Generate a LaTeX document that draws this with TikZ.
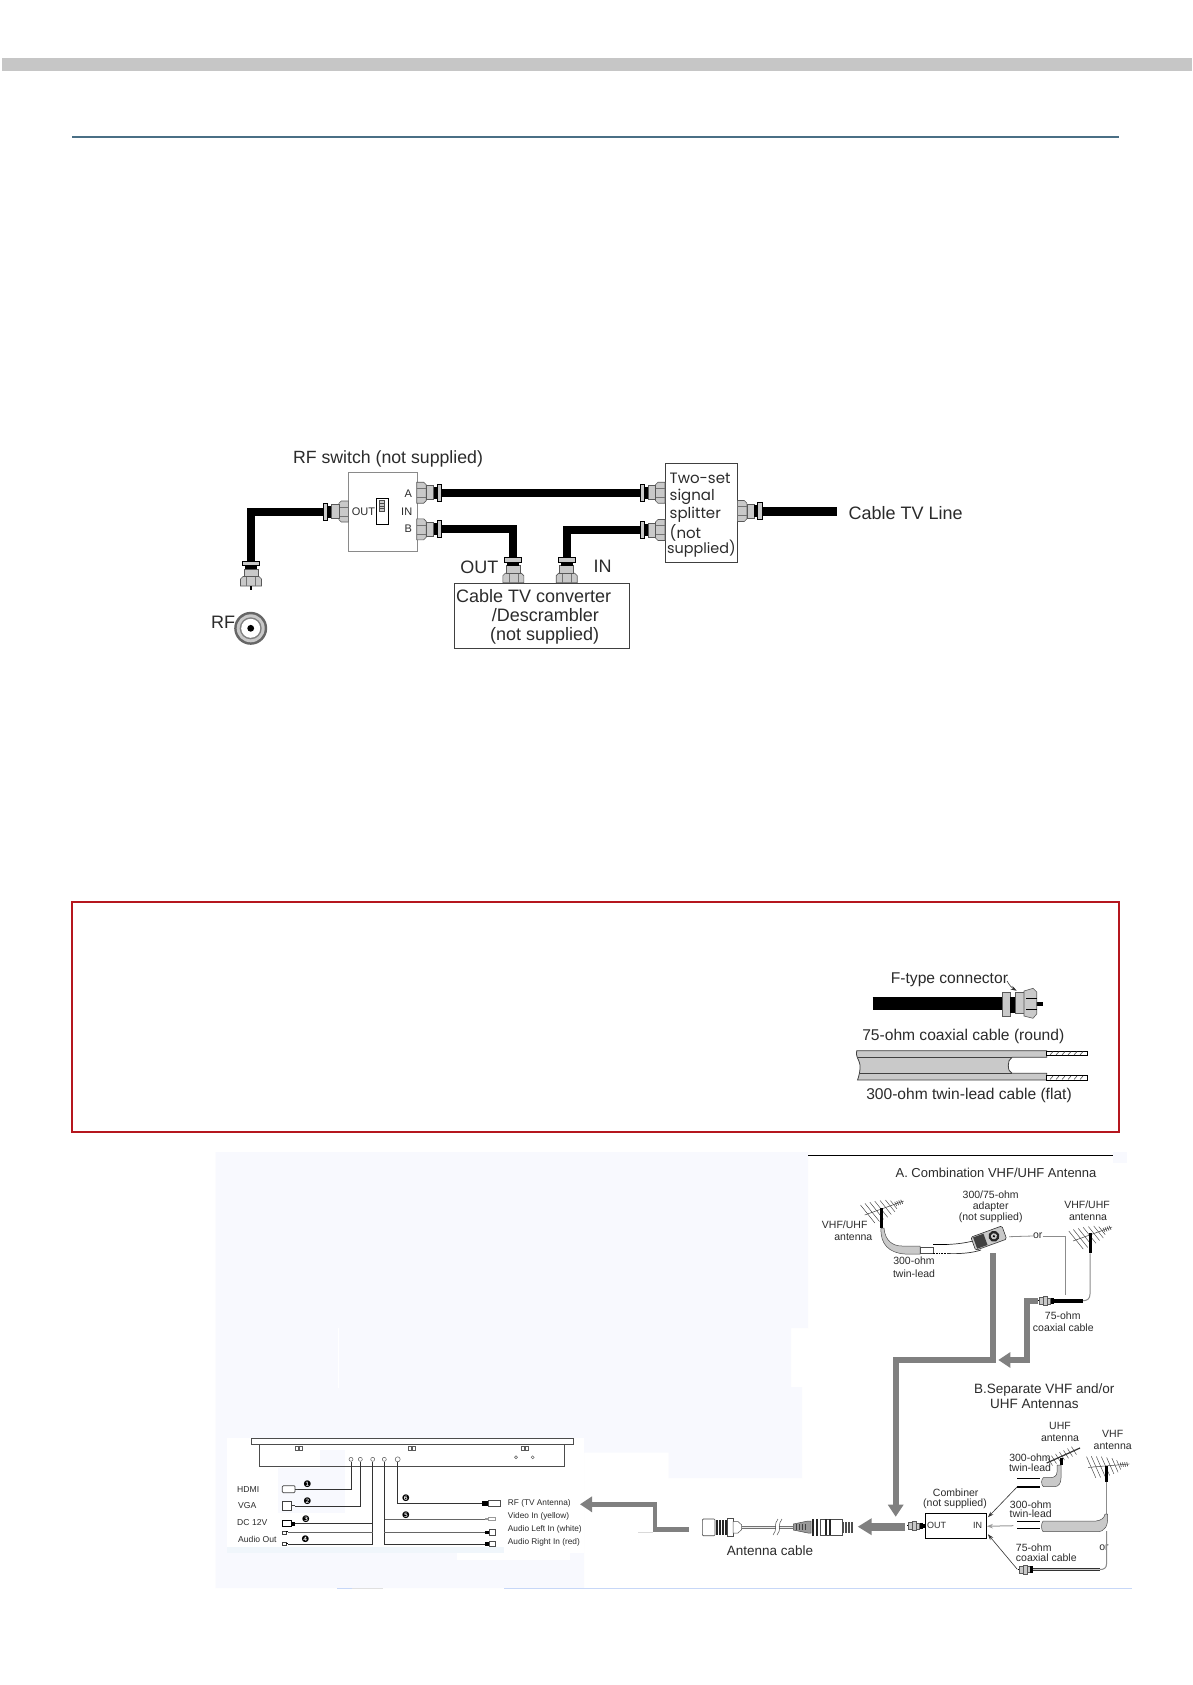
\documentclass[tikz,border=0pt]{standalone}
\usepackage{fontspec}
\setmainfont{Liberation Sans}
\newfontfamily\geo{Poppins}
\newfontfamily\dejavu{DejaVu Sans}
\usetikzlibrary{arrows.meta,calc}
\definecolor{hdr}{HTML}{C6C6C6}
\definecolor{rulecol}{HTML}{4A6F85}
\definecolor{redbox}{HTML}{B5161E}
\definecolor{pale}{HTML}{F8F9FE}
\definecolor{strip}{HTML}{F0F6FB}
\definecolor{arrowgray}{HTML}{808080}
\definecolor{partgray}{HTML}{C9C9C9}
\definecolor{boxgray}{HTML}{8A8A8A}
\definecolor{txt}{HTML}{2B2B2B}
\definecolor{blueline}{HTML}{C7D7F7}
\newcommand{\fs}[1]{\fontsize{#1}{#1}\selectfont}
\tikzset{
  x=1pt,y=-1pt,
  lab/.style={inner sep=0,text=txt,font=\fs{18}},
  swlab/.style={inner sep=0,text=txt,font=\fs{11}},
  splab/.style={inner sep=0,text=txt,font=\geo\fs{15},anchor=west},
  rlab/.style={inner sep=0,text=txt,font=\fs{15.6}},
  smalllab/.style={inner sep=0,text=txt,font=\fs{10.5}},
  midlab/.style={inner sep=0,text=txt,font=\fs{13}},
  tinylab/.style={inner sep=0,text=txt,font=\fs{8.3},anchor=west},
  numlab/.style={inner sep=0,text=black,font=\dejavu\fs{9}},
  cablebk/.style={line width=8pt,black,line join=miter},
  part/.style={fill=partgray,draw=black!65,line width=.6pt},
  bigarrow/.style={draw=arrowgray,line width=6pt,line join=miter,-{Triangle[length=12pt,width=15pt]}},
  midarrow/.style={draw=arrowgray,line width=4.6pt,line join=miter,-{Triangle[length=12pt,width=15pt]}},
  greyline/.style={draw=black!45,line width=.8pt},
  wire/.style={draw=black!80,line width=.7pt},
  pointer/.style={draw=black!80,line width=.6pt,-{Stealth[length=6pt,width=4pt]}},
  hole/.style={circle,draw=black!65,line width=.5pt,inner sep=0,minimum size=4pt,fill=white},
  fconn/.pic={
    \path[part] (0,-10.5) -- (7,-10.5) -- (9.5,-8) -- (9.5,8) -- (7,10.5) -- (0,10.5) -- cycle;
    \draw[black!55,line width=.5pt] (0,-4.5) -- (9.5,-4.5) (0,4.5) -- (9.5,4.5);
    \path[part] (9.5,-7) rectangle (17,7);
    \fill[black] (17,-6) rectangle (20.5,6);
    \path[part,draw=black,line width=.8pt] (20.5,-8.5) rectangle (25,8.5);
  },
  sconn/.pic={
    \fill[black] (-1.5,-.7) rectangle (0,.7);
    \path[part,line width=.4pt] (0,-3.5) rectangle (4,3.5);
    \path[part,line width=.4pt] (4,-4.5) rectangle (8,4.5);
    \path[part,line width=.4pt] (8,-3) rectangle (11,3);
    \fill[black] (11,-3.2) rectangle (14,3.2);
  },
  yagi/.pic={
    \draw[black!75,line width=.5pt] (-17,6) -- (22,-8);
    \foreach \a/\h in {-14/9,-9.5/9,-5/8.5,-.5/8,4/7,8.5/6,12/4}{
      \draw[black!75,line width=.45pt] ({\a-.8*\h},{-.36*\a-\h}) -- ({\a+.8*\h},{-.36*\a+\h});
    }
    \foreach \a in {14,16,18,20}{
      \draw[black!75,line width=.6pt] ({\a-1},{-.36*\a-2}) -- ({\a+1},{-.36*\a+2});
    }
  }
}
\begin{document}
\begin{tikzpicture}
\useasboundingbox (0,0) rectangle (1192,1685);
\fill[white] (0,0) rectangle (1192,1685);
% ---- header
\fill[hdr] (2,58) rectangle (1192,70.7);
\draw[rulecol,line width=1.8pt] (72,136.7) -- (1119,136.7);

% ---- RF switch diagram
\node[draw=boxgray,line width=.9pt,minimum width=68.4pt,minimum height=79.3pt,inner sep=0,anchor=north west] (sw) at (348.3,471.7) {};
\node[draw=black!75,line width=.9pt,minimum width=72.3pt,minimum height=99.6pt,inner sep=0,anchor=north west] (spl) at (665,462.7) {};
\node[draw=black!75,line width=.9pt,minimum width=175.3pt,minimum height=65.6pt,inner sep=0,anchor=north west] (conv) at (454,582.7) {};

\coordinate (swOut) at (348.3,511.5);
\coordinate (swA) at (416.7,492.7);
\coordinate (swB) at (416.7,529.3);
\coordinate (splA) at (665,492.7);
\coordinate (splB) at (665,530);
\coordinate (splC) at (737.3,511);
\coordinate (cvOut) at (513.3,582.7);
\coordinate (cvIn) at (566.7,582.7);
\coordinate (rfPlug) at (251,586);
\coordinate (lineEnd) at (837.3,511);

\draw[cablebk] ($(swOut)+(-25,0)$) -| ($(rfPlug)+(0,-25)$);
\draw[cablebk] ($(swA)+(25,0)$) -- ($(splA)+(-25,0)$);
\draw[cablebk] ($(swB)+(25,0)$) -| ($(cvOut)+(0,-25)$);
\draw[cablebk] ($(splB)+(-25,0)$) -| ($(cvIn)+(0,-25)$);
\draw[line width=9pt,black] ($(splC)+(25,0)$) -- (lineEnd);

\pic[rotate=180] at (swOut) {fconn};
\pic at (swA) {fconn};
\pic at (swB) {fconn};
\pic[rotate=180] at (splA) {fconn};
\pic[rotate=180] at (splB) {fconn};
\pic at (splC) {fconn};
\pic[rotate=90] at (cvOut) {fconn};
\pic[rotate=90] at (cvIn) {fconn};
\pic[rotate=90] at (rfPlug) {fconn};
\draw[black,line width=1.4pt] (rfPlug) -- ++(0,4);

\node[lab,font=\fs{17.7}] (tsw) at (388,458.5) {RF switch (not supplied)};
\node[swlab,anchor=west] (lout) at (351.7,511.7) {OUT};
\node[swlab] (la) at (408.3,493.3) {A};
\node[swlab] (lin) at (406.7,511.7) {IN};
\node[swlab] (lb) at (408.3,529) {B};
\draw[black,line width=.7pt,fill=white] (376,498.3) rectangle (388.3,524.3);
\draw[black!70,line width=.6pt,fill=partgray] (379.3,500.6) rectangle (384.3,511.6);
\foreach \yy in {503.5,506,508.5}{\draw[black!70,line width=.4pt] (379.3,\yy) -- (384.3,\yy);}

\node[splab] (s1) at (669.5,478) {Two-set};
\node[splab] (s2) at (669.5,497) {signal};
\node[splab] (s3) at (669.5,515) {splitter};
\node[splab] (s4) at (669.5,533) {(not};
\node[splab,font=\geo\fs{14.4}] (s5) at (667,549) {supplied)};
\node[lab,anchor=west] (tline) at (848.3,513.3) {Cable TV Line};
\node[lab,anchor=west] (c1) at (456,596) {Cable TV converter};
\node[lab,anchor=west] (c2) at (491.7,615.5) {/Descrambler};
\node[lab,anchor=west] (c3) at (490,636) {(not supplied)};
\node[lab] (tout) at (479.3,567.7) {OUT};
\node[lab] (tin) at (602.7,566.7) {IN};

% RF socket
\fill[black!60] (250.7,628.3) circle (16.5);
\fill[partgray] (250.7,628.3) circle (14);
\fill[black!50] (250.7,628.3) circle (11);
\fill[white] (250.7,628.3) circle (9.5);
\fill[black] (250.7,628.3) circle (3.4);
\node[lab] (trf) at (223,622.7) {RF};

% ---- red note box
\draw[redbox,line width=1.2pt] (72,902) rectangle (1119,1132);
\node[inner sep=0,text=txt,font=\fs{15.6},anchor=west] (ftxt) at (890.7,980) {F-type connector};
\coordinate (fcab) at (872.7,1003.6);
\coordinate (fend) at (1042.7,1003.6);
\draw[black,line width=12.7pt] (fcab) -- (1003,1003.6);
\draw[black,line width=4pt] (1025,1003.6) -- (fend);
\path[part] (1002.3,992.7) rectangle (1010,1016.7);
\fill[black] (1010,996.7) rectangle (1015,1012.7);
\path[part] (1015,992.7) rectangle (1024,1013.3);
\path[part] (1024,991) -- (1033,988.3) -- (1036.7,992) -- (1036.7,1014) -- (1033,1018.3) -- (1024,1016) -- cycle;
\draw[black,line width=.5pt] (1026,998) -- (1036.7,998) (1026,1009) -- (1036.7,1009);
\draw[pointer] (1007,981) .. controls (1010,986) and (1012,988) .. (1016.7,990.7);
\node[rlab] (t75) at (963.3,1036) {75-ohm coaxial cable (round)};
% twin-lead
\path[fill=partgray,draw=black!75,line width=.8pt]
  (856.7,1050.7) -- (1046.7,1050.7) -- (1046.7,1057.3) -- (1012,1057.3)
  .. controls (1009,1059) and (1008.3,1062) .. (1008.3,1065.3)
  .. controls (1008.3,1069) and (1009,1072) .. (1012,1073.3)
  -- (1046.7,1073.3) -- (1046.7,1080) -- (857.5,1080)
  .. controls (859,1076) and (860.5,1070) .. (860,1065)
  .. controls (859.5,1060) and (855,1056) .. (856.7,1050.7) -- cycle;
\draw[black!75,line width=.8pt] (858,1057.3) -- (1012,1057.3) (859.5,1073.3) -- (1012,1073.3);
\draw[black,line width=.8pt,fill=white] (1046.7,1051) rectangle (1087.3,1055.5);
\draw[black,line width=.8pt,fill=white] (1046.7,1075.5) rectangle (1087.3,1080);
\foreach \xx in {1050,1056,1062,1068,1074,1080}{
  \draw[black!70,line width=.6pt] (\xx,1055) -- ++(3,-3.5);
  \draw[black!70,line width=.6pt] (\xx,1079.5) -- ++(3,-3.5);
}
\node[rlab] (t300) at (969,1095.5) {300-ohm twin-lead cable (flat)};

% ---- pale scan background
\fill[pale] (215.5,1152) -- (808,1152) -- (808,1328) -- (791,1328) -- (791,1387) -- (802,1387) -- (802,1478) -- (668.6,1478) -- (668.6,1452.7) -- (584,1452.7) -- (584,1588) -- (215.5,1588) -- cycle;
\fill[white] (338,1328) rectangle (338.7,1388);
\fill[pale] (1113,1152) rectangle (1127,1163);
\fill[white] (226.5,1438) rectangle (584,1553);
\fill[white] (457,1553) rectangle (570,1560);
\fill[pale] (278,1468) rectangle (345,1513);
\fill[pale] (320,1450) rectangle (345,1468);
\fill[strip] (226.5,1547) rectangle (504,1553);
\draw[blueline,line width=1pt] (504,1588) -- (1132,1588);
\draw[blueline,line width=1pt] (337,1588) -- (352,1588);
\draw[black!12,line width=1pt] (352,1588) -- (383,1588);

% ---- A. antennas
\draw[black,line width=.9pt] (808.3,1155) -- (1113,1155);
\node[midlab] (tA) at (996,1173.3) {A. Combination VHF/UHF Antenna};
\node[smalllab] (a1) at (990.7,1195) {300/75-ohm};
\node[smalllab] (a2) at (990.7,1206.7) {adapter};
\node[smalllab] (a3) at (990.7,1217.7) {(not supplied)};
\node[smalllab] (v1) at (844.7,1225) {VHF/UHF};
\node[smalllab] (v2) at (853.3,1236.7) {antenna};
\node[smalllab] (tw1) at (914,1261) {300-ohm};
\node[smalllab] (tw2) at (914,1273.7) {twin-lead};
\node[smalllab] (v3) at (1087,1205) {VHF/UHF};
\node[smalllab] (v4) at (1088,1217.3) {antenna};
\node[smalllab] (cx1) at (1062.7,1316) {75-ohm};
\node[smalllab] (cx2) at (1063.3,1327.3) {coaxial cable};

% left antenna
\pic at (881.7,1209) {yagi};
\draw[black,line width=3pt] (881.7,1208) -- (881.7,1228);
\path[fill=partgray,draw=black!70,line width=.5pt]
  (881,1228) -- (884,1228)
  .. controls (885,1241) and (893,1246) .. (902,1246) -- (920,1246) -- (920,1254)
  -- (905,1254) .. controls (889,1253) and (880,1244) .. (881,1228) -- cycle;
\draw[black!70,line width=.5pt,fill=white] (920,1247) rectangle (933,1253);
\draw[black,line width=1.8pt] (933,1244.5) -- (947,1244.5);
\draw[black,line width=1.8pt,densely dotted] (933,1253.5) -- (947,1253.5);
\coordinate (ad1) at (973,1241);
\coordinate (ad2) at (981,1250);
\draw[wire] (947,1244.5) .. controls (957,1244) and (965,1243) .. (ad1);
\draw[wire] (947,1253.5) .. controls (960,1254) and (972,1253) .. (ad2);
% adapter
\begin{scope}[shift={(988.3,1238.3)},rotate=20]
  \path[fill=partgray,draw=black!80,line width=.6pt,rounded corners=1.5pt] (-16,-7) rectangle (17,7);
  \fill[black!75] (-14,-6) rectangle (-3,6);
  \fill[black!85] (6,0) circle (5.5);
  \fill[partgray] (6,0) circle (3);
  \fill[black] (6,0) circle (1.2);
\end{scope}
\coordinate (orA) at (1009,1236.7);
\coordinate (orB) at (1065,1295);
\node[smalllab] (tor) at (1037.7,1236) {or};
\draw[greyline] (orA) -- (tor.west);
\draw[greyline] (tor.east) -| (orB);
% right antenna
\pic at (1090,1235) {yagi};
\draw[black,line width=3pt] (1090,1233.3) -- (1090,1253.3);
\draw[greyline,line width=1pt] (1090,1253.3) -- (1090,1294) .. controls (1090,1299) and (1087,1300.7) .. (1083,1300.7);
\draw[black,line width=4pt] (1083,1300.7) -- (1053,1300.7);
\pic at (1039.5,1300.7) {sconn};

% big grey arrows
\coordinate (arA0) at (992.7,1253.3);
\coordinate (arA1) at (895.7,1360);
\coordinate (arA2) at (895.7,1516.7);
\draw[bigarrow] (arA0) |- (arA1) -- (arA2);
\coordinate (arB0) at (1038,1300.7);
\coordinate (arB1) at (1026.7,1360);
\coordinate (arB2) at (998.3,1360);
\draw[bigarrow,line width=5.7pt] (arB0) -| (arB1) -- (arB2);

% ---- B. separate antennas
\node[midlab,font=\fs{13.5}] (tB1) at (1044.3,1390) {B.Separate VHF  and/or};
\node[midlab,font=\fs{13.5}] (tB2) at (1034.3,1404.3) {UHF Antennas};
\node[smalllab] (u1) at (1060,1426) {UHF};
\node[smalllab] (u2) at (1060,1438.3) {antenna};
\node[smalllab] (u3) at (1030,1457.7) {300-ohm};
\node[smalllab] (u4) at (1030,1467.3) {twin-lead};
\node[smalllab] (w1) at (1112.7,1434) {VHF};
\node[smalllab] (w2) at (1112.7,1446) {antenna};
\node[smalllab] (w3) at (1030.7,1505) {300-ohm};
\node[smalllab] (w4) at (1030.7,1514) {twin-lead};
\node[smalllab,anchor=west] (w5) at (1015.7,1547.7) {75-ohm};
\node[smalllab,anchor=west] (w6) at (1015.7,1557.7) {coaxial cable};
\node[smalllab] (w7) at (1104,1547.7) {or};
\node[smalllab] (cb1) at (955.7,1492.7) {Combiner};
\node[smalllab] (cb2) at (955,1504) {(not supplied)};

\node[draw=black,line width=.9pt,minimum width=61pt,minimum height=25pt,inner sep=0,anchor=north west] (comb) at (925,1513.3) {};
\node[inner sep=0,text=txt,font=\fs{9}] (cO) at (936.7,1525.7) {OUT};
\node[inner sep=0,text=txt,font=\fs{9}] (cI) at (977.7,1525.7) {IN};
\pic at (908.5,1525.7) {sconn};
\fill[black] (922,1523.5) rectangle (925,1528);

% UHF antenna
\draw[black!80,line width=1.2pt] (1046.7,1463) -- (1080,1448);
\foreach \t in {0,...,6}{
  \draw[black!75,line width=.45pt] ({1050+\t*4-2.5},{1461.5-\t*1.8-4}) -- ({1050+\t*4+2.5},{1461.5-\t*1.8+4});
}
\draw[black,line width=3pt] (1061,1458) -- (1061,1465);
\path[fill=partgray,draw=black!70,line width=.5pt]
  (1057,1465) -- (1057,1472) .. controls (1057,1476) and (1054,1477.7) .. (1050,1477.7) -- (1043.3,1477.7)
  .. controls (1041,1480) and (1041,1484) .. (1043.3,1486.7) -- (1054,1486.7)
  .. controls (1059,1486.7) and (1061,1483) .. (1061,1478) -- (1061,1465) -- cycle;
\draw[black,line width=1.2pt] (1017.3,1478.3) -- (1040,1478.3);
\draw[black,line width=1.2pt] (1017.3,1487) -- (1040,1487);
\coordinate (uEnd) at (1017.3,1486.7);
\draw[pointer] (uEnd) -- ($(comb.east)+(1,-9)$);

% VHF antenna
\pic[rotate=-15] at (1106,1466) {yagi};
\draw[black,line width=3pt] (1106,1466) -- (1106,1481.7);
\draw[greyline,line width=1pt] (1106.5,1481.7) -- (1106.5,1514);
\draw[greyline,line width=1pt] (1106.5,1531) -- (1106.5,1564) .. controls (1106.5,1568) and (1104,1569.5) .. (1100,1569.5);
\draw[black!80,line width=3pt] (1100,1569.5) -- (1033.3,1569.5);
\draw[partgray,line width=1.6pt] (1100,1569.5) -- (1033.3,1569.5);
\pic at (1019,1569.5) {sconn};
\coordinate (cEnd) at (1017.3,1569.3);
\draw[pointer] (cEnd) -- ($(comb.east)+(1,8)$);

% middle flat twin-lead
\path[fill=partgray,draw=black!70,line width=.5pt]
  (1043,1521) -- (1096,1521) .. controls (1101,1520.5) and (1104.5,1518) .. (1105,1514) -- (1107.5,1514)
  .. controls (1108.5,1526) and (1105,1531.7) .. (1097,1531.7) -- (1043,1531.7)
  .. controls (1041,1529) and (1041,1524) .. (1043,1521) -- cycle;
\draw[black,line width=1.2pt] (1017.3,1521.3) -- (1040,1521.3);
\draw[black,line width=1.2pt] (1017.3,1528.7) -- (1040,1528.7);
\coordinate (mEnd) at (1013.3,1525.7);
\draw[draw=black!40,line width=1pt,-{Stealth[length=6pt,width=4.5pt]}] (mEnd) -- (comb.east);

\coordinate (arC0) at (905,1526.7);
\coordinate (arC1) at (857.7,1526.7);
\draw[bigarrow,line width=8pt,-{Triangle[length=14pt,width=16pt]}] (arC0) -- (arC1);

% ---- antenna cable
\path[fill=white,draw=black!70,line width=.6pt,rounded corners=1pt] (702.3,1519) rectangle (715,1535.7);
\foreach \xx in {716,719,722,725}{\fill[black!85] (\xx,1519.5) rectangle ++(1.6,15.8);}
\path[fill=white,draw=black!70,line width=.5pt] (727.5,1518.5) rectangle (733,1536);
\path[fill=white,draw=black!70,line width=.5pt] (733,1521.5) -- (738,1521.5) -- (741.7,1525) -- (741.7,1529.5) -- (738,1533) -- (733,1533) -- cycle;
\coordinate (wL) at (741.7,1527.3);
\coordinate (wBa) at (775.5,1527.3);
\coordinate (wBb) at (778.5,1527.3);
\coordinate (wR) at (793.3,1527.3);
\draw[black!55,line width=3pt] (wL) -- (wBa) (wBb) -- (wR);
\draw[black!8,line width=1.5pt] (wL) -- (wBa) (wBb) -- (wR);
\draw[black!70,line width=.5pt] (773,1535) .. controls (778,1530) and (773,1524) .. (778,1519);
\draw[black!70,line width=.5pt] (777,1535) .. controls (782,1530) and (777,1524) .. (782,1519);
\path[fill=black!40,draw=black!70,line width=.5pt] (793.3,1524) -- (808,1521) -- (811,1521) -- (811,1533) -- (808,1533) -- (793.3,1530) -- cycle;
\foreach \xx in {796,799,802,805}{\draw[black!75,line width=.8pt] (\xx,1524) -- (\xx,1530);}
\foreach \xx in {812,816}{\fill[black!85] (\xx,1519) rectangle ++(2,16.5);}
\path[fill=white,draw=black!70,line width=.6pt] (820,1519) rectangle (842,1535.7);
\foreach \xx in {825,828.5}{\fill[black!85] (\xx,1519.3) rectangle ++(2,16);}
\fill[black!70] (842,1521.5) rectangle (853.3,1533);
\foreach \xx in {844,847,850}{\draw[white,line width=.4pt] (\xx,1521.5) -- (\xx,1533);}
\node[inner sep=0,text=txt,font=\fs{13.5}] (tcab) at (770,1550.5) {Antenna cable};

\coordinate (arD0) at (689,1529.3);
\coordinate (arD1) at (655,1504.3);
\coordinate (arD2) at (580,1504.3);
\draw[midarrow] (arD0) -| (arD1) -- (arD2);
\draw[black!15,line width=.6pt] (638,1532.5) -- (653,1532.5);

% ---- TV rear panel
\node[draw=black!70,line width=.6pt,fill=white,minimum width=322pt,minimum height=6pt,inner sep=0,anchor=north west] (bar) at (250.7,1438.3) {};
\draw[black!70,line width=.6pt] (259.3,1444.3) |- (564,1466.7) -- (564,1444.3);
\foreach \xx in {298.3,411.7,525}{
  \draw[black!65,line width=.5pt] (\xx-3.5,1446) rectangle (\xx-.5,1450);
  \draw[black!65,line width=.5pt] (\xx+.5,1446) rectangle (\xx+3.5,1450);
}
\node[hole,minimum size=3pt] (dot1) at (516,1457.3) {};
\node[hole,minimum size=3pt] (dot2) at (532.7,1457.3) {};
\node[hole] (h1) at (351,1459.3) {};
\node[hole] (h2) at (360.3,1459.3) {};
\node[hole] (h3) at (372.7,1459.3) {};
\node[hole] (h4) at (384.3,1459.3) {};
\node[hole,minimum size=5pt] (h5) at (397.7,1459.3) {};

% plugs on the left
\coordinate (pH) at (298.3,1489.3);
\coordinate (pV) at (295,1506);
\coordinate (pD) at (295,1523.7);
\coordinate (pL) at (288.3,1532.3);
\coordinate (pA) at (288.3,1544);
\draw[black!75,line width=.7pt,fill=white,rounded corners=1pt] (282.3,1485.7) rectangle (295,1492.7);
\draw[black!75,line width=.6pt] (295,1489.3) -- (pH);
\draw[black!75,line width=.7pt,fill=white] (282.3,1501) rectangle (291,1510);
\fill[black!75] (291,1504.5) rectangle (pV);
\draw[black,line width=.8pt,fill=white] (282.3,1520) rectangle (291,1526.7);
\fill[black] (291,1521.5) rectangle (295,1525.5);
\draw[black!75,line width=.6pt,fill=white] (282.3,1531) rectangle (286,1534);
\fill[black] (286,1531) rectangle (pL);
\draw[black!75,line width=.6pt,fill=white] (282.3,1542.5) rectangle (286,1545.5);
\fill[black] (286,1542.7) rectangle (pA);
% wires on the left
\draw[wire] (h1) |- (pH);
\draw[wire,line width=.9pt] (h2) |- (pV);
\draw[wire] (h3) |- (pA);
\draw[wire,line width=1pt] (372.7,1523.7) -- (pD);
\draw[black!60,line width=.6pt] (372.7,1532.3) -- (pL);
% plugs on the right
\coordinate (qR) at (481.7,1503.3);
\coordinate (qV) at (485,1519);
\coordinate (qL) at (485,1532.3);
\coordinate (qA) at (485,1544);
\fill[black] (481.7,1500.5) rectangle (488,1506);
\draw[black!70,line width=.6pt,fill=white] (488,1500) rectangle (500,1506.5);
\draw[black!40,line width=.6pt,fill=white] (488,1517.5) rectangle (495,1520.5);
\fill[black!40] (485,1518) rectangle (488,1520);
\fill[black] (485,1530.5) rectangle (489,1534);
\draw[black!70,line width=.6pt,fill=white] (489,1529.5) rectangle (495,1535);
\fill[black] (485,1542) rectangle (489,1546);
\draw[black!70,line width=.6pt,fill=white] (489,1541.5) rectangle (495,1546.5);
\draw[wire] (h5) |- (qR);
\draw[black!60,line width=.6pt] (384.3,1519) -- (qV);
\draw[wire] (h4) |- (qA);
\draw[black!60,line width=.6pt] (384.3,1532.3) -- (qL);

\node[tinylab,font=\fs{8.6}] (tHDMI) at (237,1489.3) {HDMI};
\node[tinylab,font=\fs{8.6}] (tVGA) at (238,1506) {VGA};
\node[tinylab,font=\fs{8.6}] (tDC) at (237,1522.7) {DC 12V};
\node[tinylab,font=\fs{8.6}] (tAO) at (238,1539) {Audio Out};
\node[tinylab] (tR1) at (507.7,1503.3) {RF (TV Antenna)};
\node[tinylab] (tR2) at (507.7,1516.7) {Video In (yellow)};
\node[tinylab] (tR3) at (507.7,1529.7) {Audio Left In (white)};
\node[tinylab] (tR4) at (507.7,1542.7) {Audio Right In (red)};
\node[numlab] (n1) at (307.3,1484.3) {❶};
\node[numlab] (n2) at (307.3,1501.7) {❷};
\node[numlab] (n3) at (306,1519.3) {❸};
\node[numlab] (n4) at (305.3,1539.3) {❹};
\node[numlab] (n5) at (406,1515) {❺};
\node[numlab] (n6) at (406,1498.3) {❻};
\end{tikzpicture}
\end{document}
